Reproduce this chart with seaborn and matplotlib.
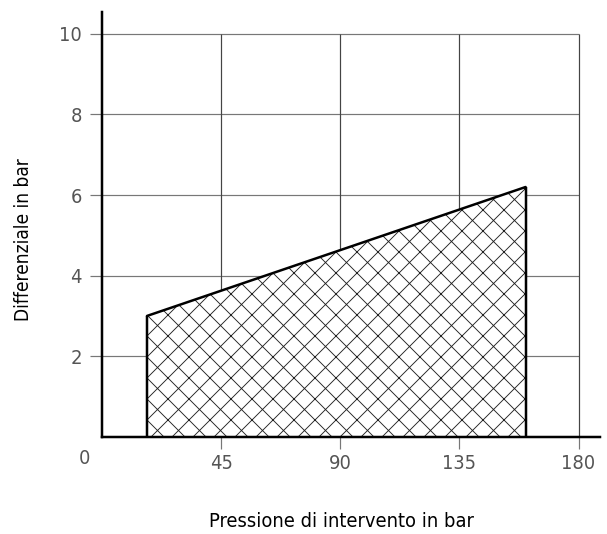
import matplotlib
matplotlib.use("Agg")
import matplotlib.pyplot as plt
import seaborn as sns
import pandas as pd

# --- DATI ---
pressione = [17, 160]          # bar (asse x)
differenziale = [3.0, 6.2]     # bar (asse y)
x_ticks = [45, 90, 135, 180]
y_ticks = [2, 4, 6, 8, 10]

df = pd.DataFrame({"pressione": pressione, "differenziale": differenziale})

# dpi scelto per avere il passo del tratteggio come nell'originale
DPI = 63
PX = 72 / DPI   # punti per pixel

sns.set_theme(style="white")
plt.rcParams["font.family"] = ["DejaVu Sans"]
plt.rcParams["font.stretch"] = "condensed"
plt.rcParams["hatch.linewidth"] = 0.9 * PX
plt.rcParams["hatch.color"] = "#222222"

fig = plt.figure(figsize=(607 / DPI, 534 / DPI), dpi=DPI)
ax = fig.add_axes([0.168, 0.182, 0.82, 0.796])

# area tratteggiata
ax.fill_between(df["pressione"], 0, df["differenziale"], facecolor="white",
                edgecolor="#222222", hatch="x", linewidth=0, zorder=2)
# contorno
sns.lineplot(data=df, x="pressione", y="differenziale", color="black",
             linewidth=2.5 * PX, ax=ax, zorder=3)
ax.vlines(pressione, 0, differenziale, color="black", linewidth=2.5 * PX, zorder=3)

# griglia limitata a 0..180 x 0..10
ax.hlines(y_ticks, 0, max(x_ticks), color="#777777", linewidth=1.2 * PX, zorder=1)
ax.vlines(x_ticks, 0, max(y_ticks), color="#444444", linewidth=1.2 * PX, zorder=1)

ax.set_xlim(0, 188)
ax.set_ylim(0, 10.55)
ax.set_xticks(x_ticks)
ax.set_yticks(y_ticks)
ax.tick_params(axis="both", direction="out", length=12 * PX, width=1.2 * PX,
               color="#777777", labelsize=20 * PX, labelcolor="#555555",
               bottom=True, left=True)
ax.tick_params(axis="x", pad=5 * PX)
ax.tick_params(axis="y", pad=8 * PX)
ax.text(-6.8, -0.55, "0", fontsize=20 * PX, color="#555555", ha="center", va="center")

for side in ["top", "right"]:
    ax.spines[side].set_visible(False)
for side in ["left", "bottom"]:
    ax.spines[side].set_color("black")
    ax.spines[side].set_linewidth(2.5 * PX)

ax.set_xlabel("Pressione di intervento in bar", fontsize=20 * PX, color="black")
ax.set_ylabel("Differenziale in bar", fontsize=19 * PX, color="black")
ax.xaxis.set_label_coords((342 - 102) / 498, -(512 - 437) / 425)
ax.yaxis.set_label_coords(-(102 - 33) / 498, (437 - 240) / 425)

fig.savefig("out.png", dpi=DPI)
